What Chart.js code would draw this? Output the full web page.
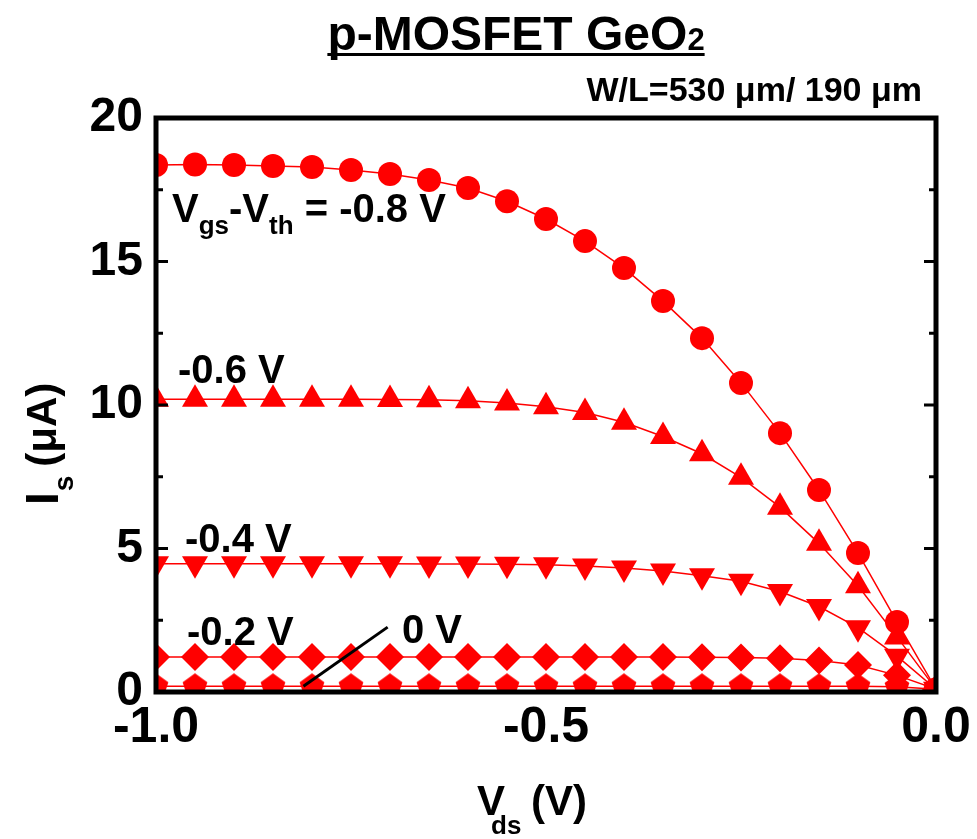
<!DOCTYPE html>
<html>
<head>
<meta charset="utf-8">
<title>p-MOSFET GeO2 output characteristics</title>
<script src="https://cdn.jsdelivr.net/npm/chart.js@4.4.1/dist/chart.umd.min.js"></script>
<style>
    body { margin: 0; background: #fff; }
    #wrap { width: 977px; height: 839px; }
</style>
</head>
<body>
<div id="wrap"><canvas id="ivChart" width="977" height="839"></canvas></div>
<script>
// Drain voltage sweep (V)
const vds = [-1.0, -0.95, -0.9, -0.85, -0.8, -0.75, -0.7, -0.65, -0.6, -0.55, -0.5,
             -0.45, -0.4, -0.35, -0.3, -0.25, -0.2, -0.15, -0.1, -0.05, 0.0];

// Source current (uA) for each gate overdrive
const isVov08 = [18.36, 18.38, 18.36, 18.33, 18.29, 18.19, 18.05, 17.84, 17.56, 17.10, 16.48,
                 15.71, 14.77, 13.62, 12.33, 10.77, 9.02, 7.04, 4.84, 2.44, 0.10];
const isVov06 = [10.20, 10.20, 10.20, 10.20, 10.20, 10.20, 10.19, 10.18, 10.15, 10.07, 9.94,
                 9.74, 9.40, 8.90, 8.30, 7.48, 6.44, 5.18, 3.70, 1.92, 0.10];
const isVov04 = [4.47, 4.47, 4.47, 4.47, 4.47, 4.47, 4.47, 4.46, 4.46, 4.45, 4.43,
                 4.39, 4.32, 4.22, 4.05, 3.86, 3.50, 2.98, 2.24, 1.25, 0.10];
const isVov02 = [1.22, 1.22, 1.22, 1.22, 1.22, 1.22, 1.22, 1.22, 1.22, 1.22, 1.22,
                 1.22, 1.22, 1.22, 1.21, 1.20, 1.18, 1.10, 0.94, 0.58, 0.10];
const isVov00 = [0.20, 0.20, 0.20, 0.20, 0.20, 0.20, 0.20, 0.20, 0.20, 0.20, 0.20,
                 0.20, 0.20, 0.20, 0.20, 0.20, 0.20, 0.20, 0.20, 0.18, 0.10];

// Axis ticks
const xTicks = [-1.0, -0.5, 0.0];
const yTicks = [0, 5, 10, 15, 20];
const yMinorTicks = [2.5, 7.5, 12.5, 17.5];

// Curve labels: [x (V), y (uA)] of the text's left baseline
const curveLabels = [
    { pos: [-0.9795, 16.38], parts: [["V", 0], ["gs", 1], ["-V", 0], ["th", 1], [" = -0.8 V", 0]] },
    { pos: [-0.9718, 10.77], parts: [["-0.6 V", 0]] },
    { pos: [-0.9628, 4.88], parts: [["-0.4 V", 0]] },
    { pos: [-0.9603, 1.64], parts: [["-0.2 V", 0]] },
    { pos: [-0.6846, 1.71], parts: [["0 V", 0]] }
];
// Pointer from the "0 V" label to its curve
const pointerLine = [[-0.703, 2.26], [-0.811, 0.20]];

const RED = "#ff0000";
const FONT = "'Liberation Sans', Arial, Helvetica, sans-serif";

// Pentagon marker for the 0 V curve
function makePentagon(r) {
    const c = document.createElement("canvas");
    c.width = c.height = r * 2 + 2;
    const g = c.getContext("2d");
    g.fillStyle = RED;
    g.beginPath();
    for (let i = 0; i < 5; i++) {
        const a = -Math.PI / 2 + i * 2 * Math.PI / 5;
        const px = r + 1 + r * Math.cos(a);
        const py = r + 1 + r * Math.sin(a);
        if (i === 0) g.moveTo(px, py); else g.lineTo(px, py);
    }
    g.closePath();
    g.fill();
    return c;
}

function series(values, style, radius, rotation) {
    return {
        data: vds.map((v, i) => ({ x: v, y: values[i] })),
        borderColor: RED,
        backgroundColor: RED,
        borderWidth: 1.5,
        pointStyle: style,
        pointRadius: radius,
        pointRotation: rotation || 0,
        pointBorderWidth: 0,
        pointBackgroundColor: RED,
        tension: 0
    };
}

// Frame, inward ticks, titles and curve labels
const decorations = {
    id: "decorations",
    afterDatasetsDraw(chart) {
        const ctx = chart.ctx;
        const a = chart.chartArea;
        const xs = chart.scales.x;
        const ys = chart.scales.y;
        ctx.save();

        // pointer line
        ctx.strokeStyle = "#000";
        ctx.lineWidth = 3;
        ctx.beginPath();
        ctx.moveTo(xs.getPixelForValue(pointerLine[0][0]), ys.getPixelForValue(pointerLine[0][1]));
        ctx.lineTo(xs.getPixelForValue(pointerLine[1][0]), ys.getPixelForValue(pointerLine[1][1]));
        ctx.stroke();

        // y ticks pointing inward on both sides
        ctx.lineWidth = 3;
        const tick = (v, len) => {
            const y = ys.getPixelForValue(v);
            ctx.beginPath();
            ctx.moveTo(a.left, y); ctx.lineTo(a.left + len, y);
            ctx.moveTo(a.right, y); ctx.lineTo(a.right - len, y);
            ctx.stroke();
        };
        yTicks.forEach(v => tick(v, 12));
        yMinorTicks.forEach(v => tick(v, 7));

        // plot frame
        ctx.lineWidth = 5;
        ctx.strokeRect(a.left, a.top, a.right - a.left, a.bottom - a.top);

        // curve labels
        ctx.fillStyle = "#000";
        ctx.textBaseline = "alphabetic";
        ctx.textAlign = "left";
        curveLabels.forEach(lab => {
            let x = xs.getPixelForValue(lab.pos[0]);
            const y = ys.getPixelForValue(lab.pos[1]);
            lab.parts.forEach(([txt, sub]) => {
                ctx.font = sub ? "bold 26px " + FONT : "bold 40px " + FONT;
                ctx.fillText(txt, x, sub ? y + 12 : y);
                x += ctx.measureText(txt).width;
            });
        });

        // title
        ctx.font = "bold 48px " + FONT;
        const t1 = "p-MOSFET GeO";
        const w1 = ctx.measureText(t1).width;
        ctx.font = "bold 31px " + FONT;
        const w2 = ctx.measureText("2").width;
        const tx = 516 - (w1 + w2) / 2;
        ctx.font = "bold 48px " + FONT;
        ctx.fillText(t1, tx, 50);
        ctx.font = "bold 31px " + FONT;
        ctx.fillText("2", tx + w1, 50);
        ctx.fillRect(tx, 53, w1 + w2, 3);

        // device geometry
        ctx.font = "bold 34px " + FONT;
        ctx.textAlign = "right";
        ctx.fillText("W/L=530 \u03bcm/ 190 \u03bcm", 922, 101);

        // x axis title
        ctx.textAlign = "left";
        ctx.font = "bold 42px " + FONT;
        ctx.fillText("V", 477, 815);
        ctx.font = "bold 26px " + FONT;
        ctx.fillText("ds", 491, 834);
        ctx.font = "bold 42px " + FONT;
        ctx.fillText("(V)", 531, 815);

        // y axis title
        ctx.translate(58, 505);
        ctx.rotate(-Math.PI / 2);
        ctx.font = "bold 46px " + FONT;
        ctx.fillText("I", 0, 0);
        let off = ctx.measureText("I").width;
        ctx.font = "bold 28px " + FONT;
        ctx.fillText("s", off + 1, 15);
        off += ctx.measureText("s").width + 10;
        ctx.font = "bold 42px " + FONT;
        ctx.fillText("(\u03bcA)", off, -2);

        ctx.restore();
    }
};

const ctx = document.getElementById("ivChart").getContext("2d");
new Chart(ctx, {
    type: "line",
    data: {
        datasets: [
            series(isVov08, "circle", 12),
            series(isVov06, "triangle", 15),
            series(isVov04, "triangle", 15, 180),
            series(isVov02, "rectRot", 14),
            series(isVov00, makePentagon(13), 13)
        ]
    },
    options: {
        responsive: false,
        animation: false,
        devicePixelRatio: 1,
        layout: { padding: { top: 118, right: 41, left: 0, bottom: 0 } },
        plugins: { legend: { display: false }, tooltip: { enabled: false } },
        scales: {
            x: {
                type: "linear",
                min: -1.0,
                max: 0.0,
                afterBuildTicks: scale => { scale.ticks = xTicks.map(v => ({ value: v })); },
                afterFit: scale => { scale.height = 147; },
                grid: { display: false, drawTicks: false },
                border: { display: false },
                ticks: {
                    padding: 6,
                    color: "#000",
                    font: { family: FONT, size: 50, weight: "bold" },
                    callback: v => v.toFixed(1)
                }
            },
            y: {
                type: "linear",
                min: 0,
                max: 20,
                afterBuildTicks: scale => { scale.ticks = yTicks.map(v => ({ value: v })); },
                afterFit: scale => { scale.width = 156; },
                grid: { display: false, drawTicks: false },
                border: { display: false },
                ticks: {
                    padding: 13,
                    color: "#000",
                    font: { family: FONT, size: 48, weight: "bold" }
                }
            }
        }
    },
    plugins: [decorations]
});
</script>
</body>
</html>
